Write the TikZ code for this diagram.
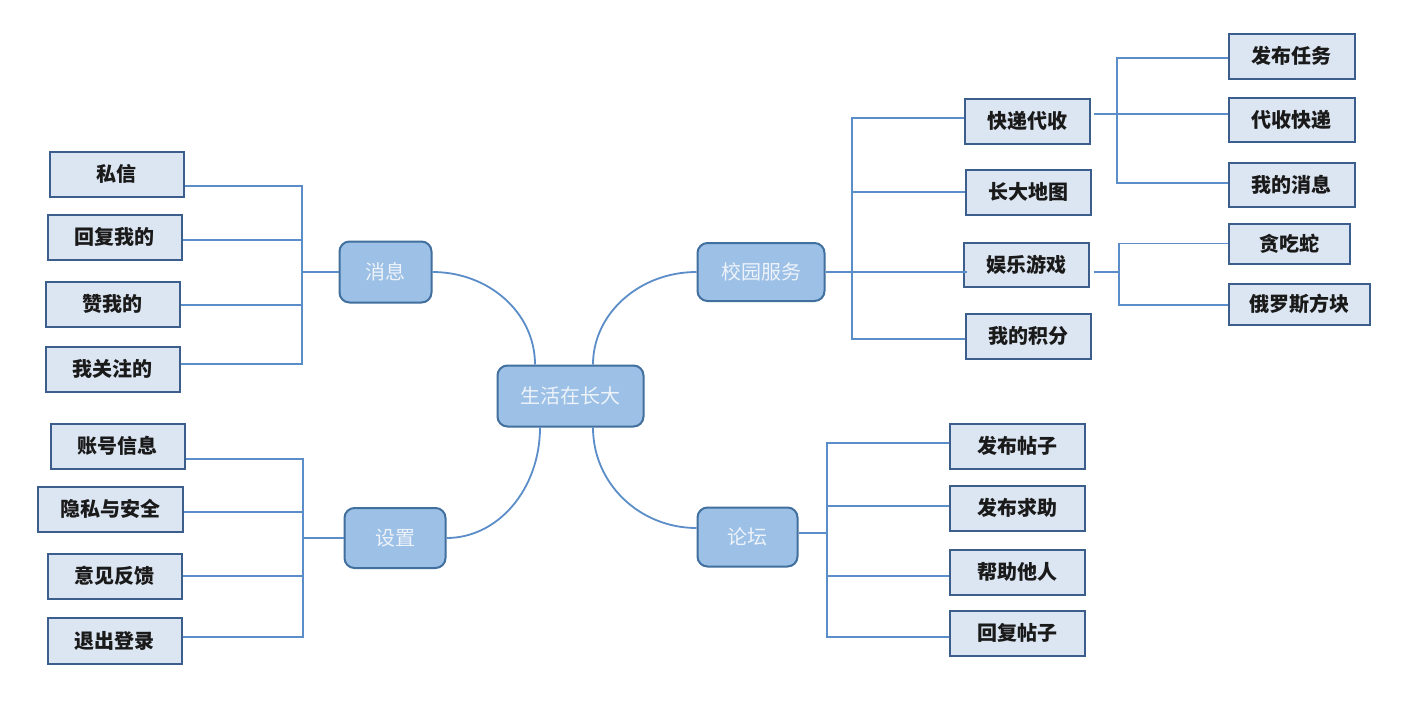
\documentclass[tikz,border=0pt]{standalone}
\usepackage{fontspec}
\setmainfont{Noto Sans CJK SC}
\definecolor{linecol}{HTML}{5B8DC8}
\definecolor{leaffill}{HTML}{DCE6F2}
\definecolor{leafborder}{HTML}{3B5E8C}
\definecolor{hubfill}{HTML}{9CC0E6}
\definecolor{hubborder}{HTML}{41709E}
\definecolor{hubtext}{HTML}{EEF3FA}
\definecolor{leaftext}{HTML}{1A1A1A}
\begin{document}
\begin{tikzpicture}[x=1pt,y=-1pt,
  leaf/.style={draw=leafborder, line width=2pt, fill=leaffill, minimum width=134pt, minimum height=45pt, inner sep=0pt, font=\fontsize{20}{24}\selectfont\bfseries, text=leaftext},
  hub/.style={draw=hubborder, line width=2pt, fill=hubfill, rounded corners=10pt, inner sep=0pt, font=\fontsize{20}{24}\selectfont, text=hubtext},
  conn/.style={draw=linecol, line width=1.8pt}]
\useasboundingbox[fill=white] (0,0) rectangle (1410,704);

% hubs
\node[hub, minimum width=146pt, minimum height=61pt] (c) at (570.5,396) {生活在长大};
\node[hub, minimum width=92pt, minimum height=61pt] (msg) at (385.5,272) {消息};
\node[hub, minimum width=127pt, minimum height=58pt] (svc) at (761,272) {校园服务};
\node[hub, minimum width=101pt, minimum height=60pt] (set) at (395,538) {设置};
\node[hub, minimum width=100pt, minimum height=59pt] (frm) at (747.5,537) {论坛};

% 消息 leaves
\node[leaf] (m1) at (116.5,174) {私信};
\node[leaf] (m2) at (114.5,237) {回复我的};
\node[leaf] (m3) at (112.5,304) {赞我的};
\node[leaf] (m4) at (112.5,369) {我关注的};

% 设置 leaves
\node[leaf] (s1) at (117.5,446) {账号信息};
\node[leaf, minimum width=145pt] (s2) at (110,509) {隐私与安全};
\node[leaf] (s3) at (114.5,576) {意见反馈};
\node[leaf, minimum height=46pt] (s4) at (114.5,640.5) {退出登录};

% 校园服务 leaves
\node[leaf, minimum width=125pt] (v1) at (1027,121) {快递代收};
\node[leaf, minimum width=125pt] (v2) at (1028,192) {长大地图};
\node[leaf, minimum width=125pt, minimum height=44pt] (v3) at (1026,264.5) {娱乐游戏};
\node[leaf, minimum width=125pt] (v4) at (1028,336) {我的积分};

\node[leaf, minimum width=126pt] (k1) at (1291.5,56) {发布任务};
\node[leaf, minimum width=126pt, minimum height=44pt] (k2) at (1291.5,119.5) {代收快递};
\node[leaf, minimum width=126pt, minimum height=44pt] (k3) at (1291.5,184.5) {我的消息};
\node[leaf, minimum width=121pt, minimum height=40pt] (g1) at (1289,243.5) {贪吃蛇};
\node[leaf, minimum width=141pt, minimum height=41pt] (g2) at (1299,304) {俄罗斯方块};

% 论坛 leaves
\node[leaf, minimum width=135pt] (f1) at (1017,446) {发布帖子};
\node[leaf, minimum width=135pt] (f2) at (1017,508) {发布求助};
\node[leaf, minimum width=135pt] (f3) at (1017,572) {帮助他人};
\node[leaf, minimum width=135pt] (f4) at (1017,633) {回复帖子};

% bus points
\coordinate (bm) at (302,272);
\coordinate (bs) at (303,538);
\coordinate (bv) at (852,272);
\coordinate (bk) at (1117,114);
\coordinate (bg) at (1119,272);
\coordinate (bf) at (827,533);

% centre curves
\draw[conn] (msg.east) .. controls +(56,0) and +(0,-52) .. ([xshift=-35.5pt]c.north);
\draw[conn] (svc.west) .. controls +(-57,0) and +(0,-51) .. ([xshift=22.5pt]c.north);
\draw[conn] (set.east) .. controls +(52,0) and +(0,61) .. ([xshift=-30.5pt]c.south);
\draw[conn] ([yshift=9pt]frm.west) .. controls +(-57,0) and +(0,56) .. ([xshift=22.5pt]c.south);

% 消息 tree
\draw[conn] (msg.west) -- (bm);
\draw[conn] ([yshift=-12pt]m1.east) -| (bm);
\draw[conn] ([yshift=-3pt]m2.east) -| (bm);
\draw[conn] ([yshift=-1pt]m3.east) -| (bm);
\draw[conn] ([yshift=5pt]m4.east) -| (bm);

% 设置 tree
\draw[conn] (set.west) -- (bs);
\draw[conn] ([yshift=-13pt]s1.east) -| (bs);
\draw[conn] ([yshift=-3pt]s2.east) -| (bs);
\draw[conn] (s3.east) -| (bs);
\draw[conn] ([yshift=3.5pt]s4.east) -| (bs);

% 校园服务 tree
\draw[conn] (svc.east) -- (bv);
\draw[conn] ([yshift=3pt]v1.west) -| (bv);
\draw[conn] (v2.west) -| (bv);
\draw[conn] ([xshift=4pt,yshift=-7.5pt]v3.west) -- (bv);
\draw[conn] ([yshift=-3pt]v4.west) -| (bv);

\draw[conn] ([xshift=3pt,yshift=7pt]v1.east) -- (bk);
\draw[conn] ([yshift=-2pt]k1.west) -| (bk);
\draw[conn] ([yshift=5.5pt]k2.west) -| (bk);
\draw[conn] ([yshift=1.5pt]k3.west) -| (bk);

\draw[conn] ([xshift=4pt,yshift=-7.5pt]v3.east) -- (bg);
\draw[conn] (g1.west) -| (bg);
\draw[conn] ([yshift=-1pt]g2.west) -| (bg);

% 论坛 tree
\draw[conn] ([yshift=4pt]frm.east) -- (bf);
\draw[conn] ([yshift=3pt]f1.west) -| (bf);
\draw[conn] ([yshift=2pt]f2.west) -| (bf);
\draw[conn] ([yshift=-4pt]f3.west) -| (bf);
\draw[conn] ([yshift=-4pt]f4.west) -| (bf);
\end{tikzpicture}
\end{document}
